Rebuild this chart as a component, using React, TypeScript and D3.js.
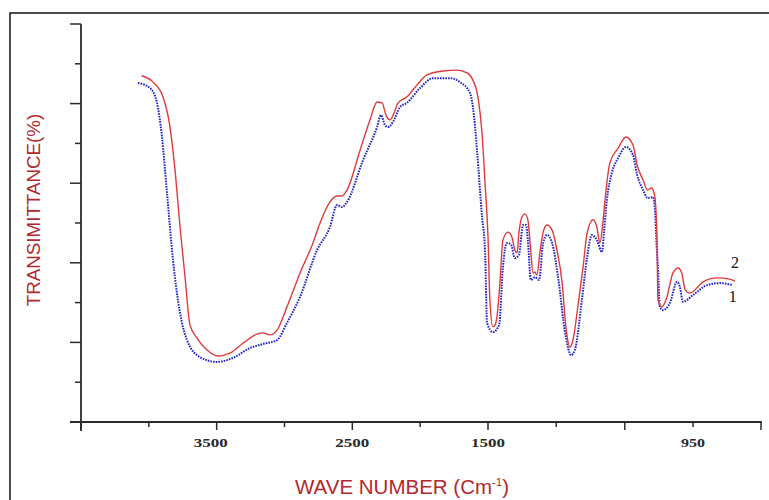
import React from "react";
import * as d3 from "d3";

// FTIR spectra: wavenumber (cm^-1) vs transmittance (%)
const sample2Wavenumber = [4053, 3969, 3896, 3844, 3807, 3770, 3733, 3697, 3645, 3571, 3490, 3402, 3306, 3203, 3158, 3107, 3055, 2982, 2886, 2790, 2738, 2665, 2613, 2576, 2539, 2443, 2370, 2318, 2281, 2252, 2222, 2193, 2163, 2097, 2023, 1950, 1832, 1729, 1655, 1611, 1574, 1544, 1522, 1500, 1495, 1487, 1481, 1476, 1468, 1460, 1446, 1436, 1428, 1422, 1417, 1409, 1401, 1393, 1387, 1379, 1374, 1369, 1360, 1352, 1342, 1328, 1315, 1301, 1291, 1280, 1272, 1259, 1245, 1234, 1218, 1208, 1200, 1191, 1186, 1173, 1151, 1130, 1111, 1100, 1084, 1072, 1061, 1053, 1047, 1044, 1033, 1020, 1004, 990, 980, 971, 958, 923, 886, 851, 837];
const sample2Transmittance = [87.0, 85.4, 81.7, 74.1, 63.3, 49.0, 36.4, 24.4, 21.1, 18.1, 16.6, 17.3, 19.8, 22.1, 22.4, 21.9, 23.1, 28.9, 37.4, 45.0, 50.0, 55.3, 56.8, 56.8, 58.3, 68.3, 75.9, 80.4, 80.2, 77.1, 75.9, 77.6, 80.2, 81.7, 84.7, 87.2, 88.2, 88.4, 87.7, 85.9, 81.7, 72.6, 60.1, 46.5, 30.7, 23.9, 24.4, 26.4, 34.9, 45.7, 47.7, 46.5, 43.2, 42.5, 47.5, 51.5, 52.3, 50.8, 45.0, 37.4, 37.7, 36.9, 43.2, 47.7, 49.5, 48.2, 43.2, 34.9, 23.9, 18.8, 20.6, 28.9, 38.9, 47.5, 50.8, 49.0, 45.0, 50.8, 55.8, 65.1, 68.8, 71.6, 69.6, 64.6, 60.8, 58.3, 58.8, 57.0, 47.5, 30.7, 28.9, 31.4, 37.4, 38.7, 37.4, 33.2, 32.4, 35.2, 36.2, 35.9, 35.4];

const sample1Wavenumber = [4080, 3991, 3940, 3903, 3866, 3822, 3770, 3719, 3623, 3498, 3380, 3254, 3158, 3055, 2982, 2886, 2760, 2665, 2613, 2576, 2539, 2421, 2318, 2289, 2259, 2237, 2200, 2149, 2097, 2001, 1905, 1780, 1706, 1633, 1611, 1581, 1544, 1522, 1507, 1487, 1470, 1460, 1449, 1438, 1428, 1417, 1406, 1398, 1393, 1385, 1374, 1363, 1352, 1342, 1328, 1312, 1293, 1277, 1267, 1248, 1234, 1221, 1208, 1194, 1189, 1181, 1167, 1151, 1130, 1111, 1100, 1084, 1072, 1057, 1053, 1047, 1044, 1039, 1031, 1012, 993, 985, 977, 950, 912, 877, 843];
const sample1Transmittance = [85.2, 83.9, 80.2, 71.6, 57.5, 40.7, 27.4, 20.6, 16.3, 15.1, 16.1, 18.6, 19.6, 20.6, 24.9, 31.4, 43.2, 49.0, 54.5, 54.0, 55.3, 65.8, 74.1, 77.1, 74.6, 74.1, 75.4, 79.1, 80.2, 83.9, 86.4, 86.4, 85.4, 82.7, 79.1, 68.3, 51.5, 43.2, 24.9, 22.6, 24.4, 38.9, 45.0, 44.5, 41.2, 42.0, 49.5, 49.5, 45.7, 35.7, 36.4, 35.7, 45.0, 47.0, 45.0, 36.4, 22.4, 16.8, 18.1, 30.7, 41.5, 47.0, 45.7, 42.7, 47.5, 55.8, 62.8, 66.3, 69.1, 67.1, 62.1, 58.3, 56.3, 56.5, 54.5, 43.2, 38.9, 28.9, 28.1, 29.9, 35.2, 33.9, 30.2, 31.9, 34.4, 34.9, 34.4];

// Axis ticks (the wavenumber axis is expanded below 1500 cm^-1)
const xTickValues = [4500, 4000, 3500, 3000, 2500, 2000, 1500, 1317, 1133, 950, 767];
const xTickLabels = ["", "", "3500", "", "2500", "", "1500", "", "", "950", ""];
const xTickMajor = [true, false, true, false, true, false, true, false, true, false, true];
const yTickValues = [100, 90, 80, 70, 60, 50, 40, 30, 20, 10];

const seriesNames = ["2", "1"];

const W = 769;
const H = 500;

export default function App() {
  const x = d3.scaleLinear().domain([4500, 1500, 950, 767]).range([81, 488, 693, 761]);
  const y = d3.scaleLinear().domain([0, 100]).range([422, 24]);

  const line = d3
    .line<[number, number]>()
    .x((d) => x(d[0]))
    .y((d) => y(d[1]))
    .curve(d3.curveMonotoneX);

  const s2 = sample2Wavenumber.map((w, i) => [w, sample2Transmittance[i]] as [number, number]);
  const s1 = sample1Wavenumber.map((w, i) => [w, sample1Transmittance[i]] as [number, number]);

  const axisColor = "#2b2b2b";
  const titleColor = "#b3282d";

  const last2 = s2[s2.length - 1];
  const last1 = s1[s1.length - 1];

  return (
    <svg
      width={W}
      height={H}
      style={{ position: "absolute", left: 0, top: 0, background: "#fff" }}
    >
      <rect x={10} y={13} width={800} height={520} fill="none" stroke="#111" strokeWidth={1.5} />

      {/* spectra */}
      <path d={line(s1) ?? ""} fill="none" stroke="#2424cf" strokeWidth={2} strokeDasharray="1.6 1.1" />
      <path d={line(s2) ?? ""} fill="none" stroke="#e0393b" strokeWidth={1.4} />

      {/* y axis */}
      <line x1={x(4500)} x2={x(4500)} y1={y(100)} y2={y(0) + 9} stroke={axisColor} strokeWidth={1.8} />
      {yTickValues.map((v) => (
        <line
          key={"yt" + v}
          x1={x(4500) - (v % 20 === 0 ? 11 : 6)}
          x2={x(4500)}
          y1={y(v)}
          y2={y(v)}
          stroke={axisColor}
          strokeWidth={1.5}
        />
      ))}

      {/* x axis */}
      <line x1={x(4500) - 11} x2={x(767) + 0.8} y1={y(0)} y2={y(0)} stroke={axisColor} strokeWidth={1.8} />
      {xTickValues.map((v, i) => (
        <line
          key={"xt" + v}
          x1={x(v)}
          x2={x(v)}
          y1={y(0)}
          y2={y(0) + (xTickMajor[i] ? 8 : 5)}
          stroke={axisColor}
          strokeWidth={1.5}
        />
      ))}
      {xTickValues.map((v, i) =>
        xTickLabels[i] ? (
          <text
            key={"xl" + v}
            x={x(v) - (xTickLabels[i].length === 4 ? 17 : 12) + (i === 2 ? -6 : 0)}
            y={y(0) + 25}
            fontFamily="'Liberation Serif', 'Times New Roman', serif"
            fontWeight="bold"
            fontSize={13.5}
            fill="#2a2a2a"
            textLength={xTickLabels[i].length === 4 ? 34 : 24}
            lengthAdjust="spacingAndGlyphs"
          >
            {xTickLabels[i]}
          </text>
        ) : null
      )}

      {/* series labels */}
      <text
        x={x(last2[0]) - 4}
        y={y(last2[1]) - 13}
        fontFamily="'Liberation Serif', 'Times New Roman', serif"
        fontSize={16}
        fill="#111"
      >
        {seriesNames[0]}
      </text>
      <text
        x={x(last1[0]) - 4}
        y={y(last1[1]) + 17}
        fontFamily="'Liberation Serif', 'Times New Roman', serif"
        fontSize={16}
        fill="#111"
      >
        {seriesNames[1]}
      </text>

      {/* axis titles */}
      <text
        x={295}
        y={494}
        fontFamily="'Liberation Sans', Arial, sans-serif"
        fontSize={20.5}
        fill={titleColor}
      >
        WAVE NUMBER (Cm
        <tspan fontSize={11.5} dy={-8}>-1</tspan>
        <tspan dy={8}>)</tspan>
      </text>
      <text
        transform="translate(40,210) rotate(-90)"
        textAnchor="middle"
        fontFamily="'Liberation Sans', Arial, sans-serif"
        fontSize={18.8}
        fill={titleColor}
      >
        TRANSIMITTANCE(%)
      </text>
    </svg>
  );
}
